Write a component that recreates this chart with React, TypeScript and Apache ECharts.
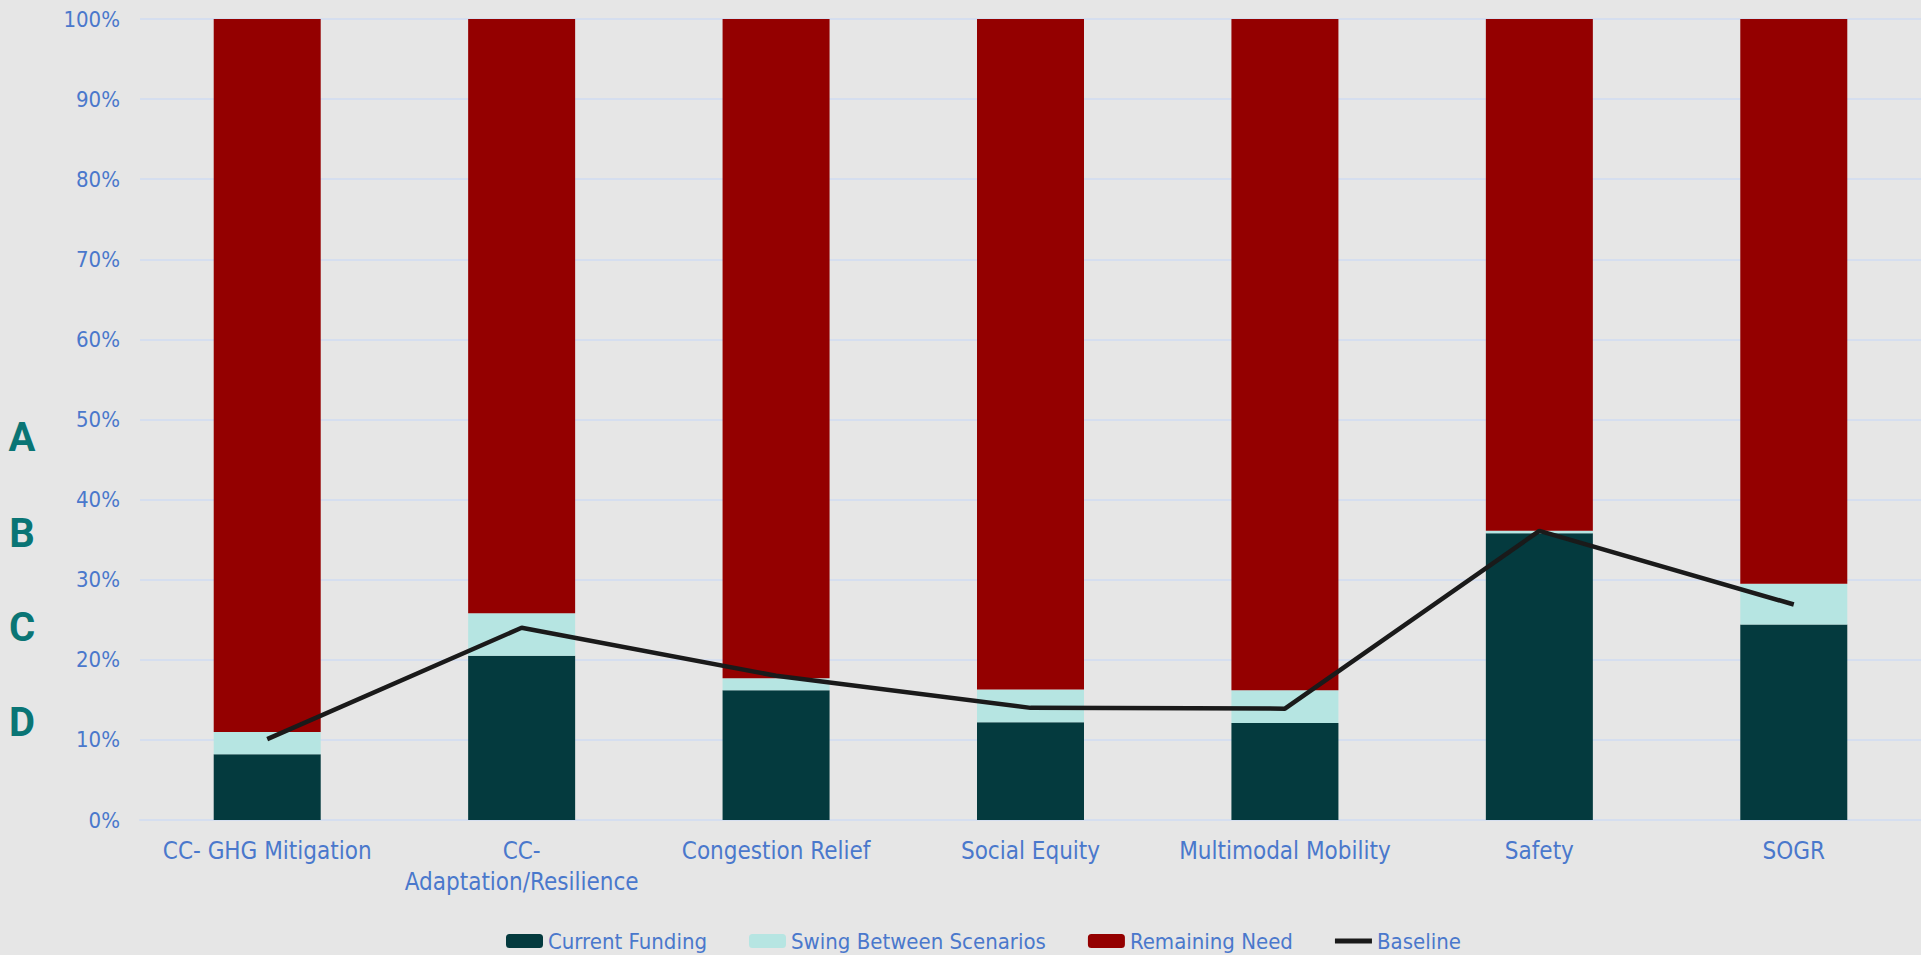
import React, { useEffect, useRef } from "react";
import * as echarts from "echarts";

const categories = [
  "CC- GHG Mitigation",
  "CC- Adaptation/Resilience",
  "Congestion Relief",
  "Social Equity",
  "Multimodal Mobility",
  "Safety",
  "SOGR",
];
const currentFunding = [8.2, 20.5, 16.2, 12.2, 12.1, 35.8, 24.4];
const swingBetweenScenarios = [2.8, 5.3, 1.5, 4.1, 4.1, 0.3, 5.1];
const remainingNeed = [89.0, 74.2, 82.3, 83.7, 83.8, 63.9, 70.5];
const baseline = [10.1, 24.0, 18.0, 14.0, 13.9, 36.1, 26.9];
const sideLetters = ["A", "B", "C", "D"];
const sideLetterY = [437, 533, 627, 722];

const FONT = "'DejaVu Sans Condensed', sans-serif";
const BLUE = "#4a78cc";

export default function App() {
  const ref = useRef<HTMLDivElement>(null);
  useEffect(() => {
    if (!ref.current) return;
    const chart = echarts.init(ref.current, undefined, { renderer: "svg" });
    chart.setOption({
      animation: false,
      backgroundColor: "#e6e6e6",
      grid: { left: 140, top: 19, width: 1831, height: 801, containLabel: false },
      legend: {
        left: 506,
        top: 930,
        padding: 0,
        itemWidth: 37,
        itemHeight: 14,
        itemGap: 42,
        textStyle: { color: BLUE, fontSize: 22, fontFamily: FONT },
        data: [
          { name: "Current Funding" },
          { name: "Swing Between Scenarios" },
          { name: "Remaining Need" },
          { name: "Baseline", icon: "path://M0,0H37V5H0Z" },
        ],
      },
      xAxis: {
        type: "category",
        data: categories,
        axisTick: { show: false },
        axisLine: { show: true, lineStyle: { color: "#d5deef", width: 2 } },
        axisLabel: {
          color: BLUE,
          fontSize: 24,
          fontFamily: FONT,
          margin: 15,
          lineHeight: 31,
          interval: 0,
          formatter: (v: string) => v.replace("CC- Adaptation", "CC-\nAdaptation"),
        },
      },
      yAxis: {
        type: "value",
        min: 0,
        max: 100,
        interval: 10,
        axisLine: { show: false },
        axisTick: { show: false },
        splitLine: { lineStyle: { color: "#d5deef", width: 2 } },
        axisLabel: {
          color: BLUE,
          fontSize: 22,
          fontFamily: FONT,
          margin: 20,
          formatter: "{value}%",
        },
      },
      graphic: sideLetters.map((l, i) => ({
        type: "text",
        x: 22,
        y: sideLetterY[i],
        style: {
          text: l,
          fill: "#0a7575",
          font: "bold 40px Roboto, sans-serif",
          textAlign: "center",
          textVerticalAlign: "middle",
        },
      })),
      series: [
        {
          name: "Current Funding",
          type: "bar",
          stack: "total",
          barWidth: 107,
          data: currentFunding,
          itemStyle: { color: "#043a3e" },
        },
        {
          name: "Swing Between Scenarios",
          type: "bar",
          stack: "total",
          barWidth: 107,
          data: swingBetweenScenarios,
          itemStyle: { color: "#b6e5e2" },
        },
        {
          name: "Remaining Need",
          type: "bar",
          stack: "total",
          barWidth: 107,
          data: remainingNeed,
          itemStyle: { color: "#940000" },
        },
        {
          name: "Baseline",
          type: "line",
          data: baseline,
          symbol: "none",
          z: 5,
          lineStyle: { color: "#1a1a1a", width: 4.5 },
          itemStyle: { color: "#1a1a1a" },
        },
      ],
    });
    return () => chart.dispose();
  }, []);
  return (
    <div
      ref={ref}
      style={{ position: "fixed", left: 0, top: 0, width: 1921, height: 955 }}
    />
  );
}
